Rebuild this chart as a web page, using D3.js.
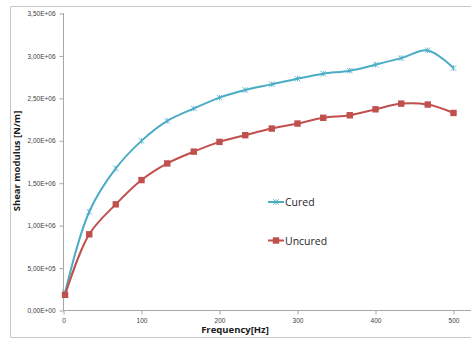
<!DOCTYPE html>
<html><head><meta charset="utf-8">
<script src="https://cdn.jsdelivr.net/npm/d3@7"></script>
<style>body{margin:0;background:#fff}svg{display:block}</style>
</head><body>
<svg id="c" width="471" height="338"></svg>
<script>
const freq = [2, 33, 67, 100, 133, 167, 200, 233, 267, 300, 333, 367, 400, 433, 467, 500];
const cured = [0.21e6, 1.164e6, 1.674e6, 1.999e6, 2.234e6, 2.38e6, 2.509e6, 2.598e6, 2.665e6, 2.732e6, 2.791e6, 2.826e6, 2.897e6, 2.974e6, 3.065e6, 2.857e6];
const uncured = [0.185e6, 0.898e6, 1.251e6, 1.537e6, 1.733e6, 1.872e6, 1.987e6, 2.066e6, 2.144e6, 2.203e6, 2.271e6, 2.301e6, 2.371e6, 2.438e6, 2.427e6, 2.328e6];
const xTicks = [0, 100, 200, 300, 400, 500];
const yTicks = [0, 0.5e6, 1e6, 1.5e6, 2e6, 2.5e6, 3e6, 3.5e6];
const seriesNames = ["Cured", "Uncured"];

const svg = d3.select("#c");
const x = d3.scaleLinear().domain([0, 500]).range([63.5, 453.5]);
const y = d3.scaleLinear().domain([0, 3.5e6]).range([310.5, 13.5]);
const fmt = v => {
  if (v === 0) return "0,00E+00";
  const e = Math.floor(Math.log10(v));
  const m = v / Math.pow(10, e);
  return m.toFixed(2).replace(".", ",") + "E+" + String(e).padStart(2, "0");
};

// outer frame
svg.append("path").attr("d", "M471,6.5H10.5V337.5H471").attr("fill", "none").attr("stroke", "#c8c8c8");

// axes
const gy = svg.append("g").attr("transform", "translate(63.5,0)")
  .call(d3.axisLeft(y).tickValues(yTicks).tickFormat(fmt).tickSize(4).tickPadding(4));
const gx = svg.append("g").attr("transform", "translate(0,310.5)")
  .call(d3.axisBottom(x).tickValues(xTicks).tickFormat(d3.format("d")).tickSize(4).tickPadding(4));
[gx, gy].forEach(g => {
  g.select(".domain").remove();
  g.selectAll("line").attr("stroke", "#a6a6a6");
  g.selectAll("text").attr("fill", "#404040").style("font-family", "'Liberation Sans', Arial, sans-serif").style("font-size", "6.5px");
});
svg.append("line").attr("x1", 63.5).attr("x2", 63.5).attr("y1", 13).attr("y2", 311).attr("stroke", "#a6a6a6");
svg.append("line").attr("x1", 63).attr("x2", 471).attr("y1", 310.5).attr("y2", 310.5).attr("stroke", "#a6a6a6");

// titles
svg.append("text").attr("x", 235).attr("y", 333).attr("text-anchor", "middle")
  .style("font-family", "'Open Sans', sans-serif").style("font-weight", "bold").style("font-size", "9.5px").attr("fill", "#1a1a1a")
  .text("Frequency[Hz]");
svg.append("text").attr("transform", "translate(20,161) rotate(-90)").attr("text-anchor", "middle")
  .style("font-family", "'Open Sans', sans-serif").style("font-weight", "bold").style("font-size", "9.5px").attr("fill", "#1a1a1a")
  .text("Shear modulus  [N/m]");

const line = d3.line().x(d => x(d[0])).y(d => y(d[1])).curve(d3.curveCatmullRom.alpha(0.5));
const colors = ["#4bacc6", "#c0504d"];
const data = [cured, uncured].map(s => freq.map((f, i) => [f, s[i]]));

function asterisk(g, cx, cy, col) {
  const r = 2.8;
  g.append("path").attr("d", `M${cx-r},${cy-r}L${cx+r},${cy+r}M${cx-r},${cy+r}L${cx+r},${cy-r}M${cx},${cy-r}L${cx},${cy+r}`)
    .attr("stroke", col).attr("stroke-width", 1).attr("fill", "none").attr("opacity", 0.8);
}
function square(g, cx, cy, col) {
  g.append("rect").attr("x", cx - 3.2).attr("y", cy - 3.2).attr("width", 6.4).attr("height", 6.4).attr("fill", col);
}

data.forEach((d, k) => {
  svg.append("path").datum(d).attr("d", line).attr("fill", "none").attr("stroke", colors[k]).attr("stroke-width", 2);
  const g = svg.append("g");
  d.forEach(p => (k === 0 ? asterisk : square)(g, x(p[0]), y(p[1]), colors[k]));
});

// legend
const legY = [202, 240.5];
seriesNames.forEach((n, k) => {
  const g = svg.append("g");
  g.append("line").attr("x1", 268).attr("x2", 284).attr("y1", legY[k]).attr("y2", legY[k]).attr("stroke", colors[k]).attr("stroke-width", 2);
  (k === 0 ? asterisk : square)(g, 276, legY[k], colors[k]);
  g.append("text").attr("x", 285).attr("y", legY[k] + 4).text(n)
    .style("font-family", "'Open Sans', sans-serif").style("font-size", "10.5px").attr("fill", "#262626");
});
</script>
</body></html>
